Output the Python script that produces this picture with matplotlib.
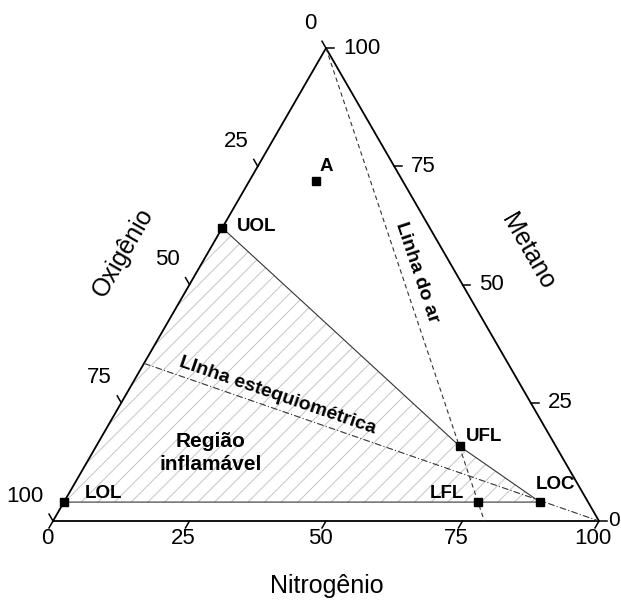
import numpy as np
import matplotlib
matplotlib.use("Agg")
from matplotlib import pyplot as plt
from matplotlib.patches import Polygon

plt.rcParams['font.family'] = ['Liberation Sans', 'DejaVu Sans']
plt.rcParams['hatch.linewidth'] = 0.7

# marked points, composition in % (methane, oxygen); nitrogen is the rest
point_names = ['A', 'UOL', 'UFL', 'LFL', 'LOC', 'LOL']
point_ch4 = [72, 62, 15.8, 4, 4, 4]
point_o2 = [15.8, 38, 17.6, 20.2, 8.8, 96]
point_n2 = [100 - c - o for c, o in zip(point_ch4, point_o2)]

# flammable region outline, in drawing order
region_names = ['UOL', 'UFL', 'LOC', 'LFL', 'LOL']

# air line: pure methane -> air (21 % O2, 79 % N2)
air_ch4 = [100, 0]
air_n2 = [0, 79]

# stoichiometric line: CH4 + 2 O2 -> pure N2
stoich_ch4 = [100 / 3, 0]
stoich_n2 = [0, 100]

ticks = [0, 25, 50, 75, 100]

PX = 5.46  # pixels per composition unit


def to_xy(n2, ch4):
    n2 = np.asarray(n2, dtype=float)
    ch4 = np.asarray(ch4, dtype=float)
    return n2 + ch4 / 2, ch4 * np.sqrt(3) / 2


fig = plt.figure(figsize=(6.21, 6.01), dpi=100)
ax = fig.add_axes([0, 0, 1, 1])
ax.set_xlim(-53 / PX, (621 - 53) / PX)
ax.set_ylim(-(601 - 521) / PX, 521 / PX)
ax.axis('off')

# flammable region, hatched
idx = [point_names.index(p) for p in region_names]
rx, ry = to_xy([point_n2[i] for i in idx], [point_ch4[i] for i in idx])
ax.add_patch(Polygon(np.column_stack([rx, ry]), closed=True, facecolor='none',
                     edgecolor='#c4c4c4', hatch='//', lw=0))
ax.plot(rx, ry, color='#333333', lw=0.8)

# triangle
tx, ty = to_xy([0, 100, 0, 0], [0, 0, 100, 0])
ax.plot(tx, ty, color='black', lw=1.3, solid_joinstyle='miter')

# air and stoichiometric lines
ax.plot(*to_xy(air_n2, air_ch4), color='#333333', lw=0.8, ls=(0, (4, 3)))
ax.plot(*to_xy(stoich_n2, stoich_ch4), color='#333333', lw=0.8, ls=(0, (6, 2, 1, 2)))

# ticks and tick labels
tl = 8 / PX
for t in ticks:
    # nitrogen (bottom)
    x, y = to_xy([t], [0])
    ax.plot([x[0], x[0] - 0.5 * tl], [y[0], y[0] - 0.866 * tl], color='black', lw=1.1)
    ax.text(x[0] - 6 / PX, y[0] - 17 / PX, str(t), fontsize=16, ha='center', va='center')
    # oxygen (left)
    x, y = to_xy([0], [100 - t])
    ax.plot([x[0], x[0] - 0.5 * tl], [y[0], y[0] + 0.866 * tl], color='black', lw=1.1)
    ax.text(x[0] - 9.5 / PX, y[0] + 25 / PX, str(t), fontsize=16, ha='right', va='center')
    # methane (right)
    x, y = to_xy([100 - t], [t])
    ax.plot([x[0], x[0] + tl], [y[0], y[0]], color='black', lw=1.1)
    gap = 17 if t > 0 else 9
    ax.text(x[0] + gap / PX, y[0], str(t), fontsize=16 if t > 0 else 15,
            ha='left', va='center')

# points
px, py = to_xy(point_n2, point_ch4)
ax.plot(px, py, 's', color='black', ms=6.3)
offsets = {'A': (10, 14, 'center'), 'UOL': (15, 1, 'left'), 'UFL': (6, 10, 'left'),
           'LFL': (-14, 9, 'right'), 'LOC': (15, 18, 'center'), 'LOL': (21, 9, 'left')}
for name, x, y in zip(point_names, px, py):
    dx, dy, ha = offsets[name]
    ax.annotate(name, (x, y), xytext=(dx, dy), textcoords='offset pixels',
                ha=ha, va='center', fontsize=13.5, fontweight='bold')


def pix(x, y):
    return (x - 53) / PX, (521 - y) / PX


ax.text(*pix(211, 453), 'Região\ninflamável', fontsize=15, fontweight='bold',
        ha='center', va='center', linespacing=1.3)
ax.text(*pix(417, 272), 'Linha do ar', fontsize=14, fontweight='bold',
        ha='center', va='center', rotation=-71.5, rotation_mode='anchor')
ax.text(*pix(278, 396), 'LInha estequiométrica', fontsize=14, fontweight='bold',
        ha='center', va='center', rotation=-19, rotation_mode='anchor')

ax.text(*pix(123, 252), 'Oxigênio', fontsize=18, ha='center', va='center',
        rotation=60, rotation_mode='anchor')
ax.text(*pix(528, 252), 'Metano', fontsize=18, ha='center', va='center',
        rotation=-60, rotation_mode='anchor')
ax.text(*pix(327, 586), 'Nitrogênio', fontsize=18, ha='center', va='center')

fig.savefig('out.png', dpi=100)
